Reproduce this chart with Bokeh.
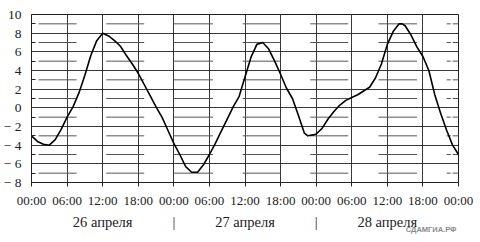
from bokeh.plotting import figure
from bokeh.models import FixedTicker, LinearAxis, Title, Range1d
from bokeh.embed import file_html
from bokeh.resources import INLINE

# ---- data (hours since 00:00 of 26 April, temperature in °C) ----
hours = [0, 1, 2, 3, 4, 5, 6, 7, 8, 9, 10, 11, 12, 13, 14, 15, 16, 17, 18, 19, 20,
         21, 22, 23, 24, 25, 26, 27, 28, 29, 30, 31, 32, 33, 34, 35, 36, 37, 38, 39,
         40, 41, 42, 43, 44, 45, 46, 46.6, 47.5, 48, 49, 50, 51, 52, 53, 54, 55, 56,
         57, 58, 59, 60, 61, 62, 62.5, 63, 64, 65, 66, 67, 68, 69, 70, 71, 72]
temps = [-3.0, -3.6, -3.9, -4.0, -3.4, -2.3, -1.0, 0.1, 1.6, 3.5, 5.6, 7.2, 8.0, 7.7,
         7.2, 6.6, 5.6, 4.7, 3.7, 2.5, 1.3, 0.1, -1.0, -2.4, -3.8, -5.0, -6.3, -6.9,
         -6.9, -6.1, -5.0, -3.8, -2.5, -1.2, 0.1, 1.2, 3.3, 5.4, 6.8, 7.0, 6.3, 5.0,
         3.6, 2.1, 1.0, -0.8, -2.7, -3.0, -2.9, -2.8, -2.2, -1.2, -0.4, 0.3, 0.8, 1.1,
         1.4, 1.8, 2.2, 3.2, 4.7, 6.8, 8.2, 9.0, 9.0, 8.8, 7.8, 6.5, 5.5, 4.0, 1.4,
         -0.6, -2.4, -4.0, -5.0]

x_ticks = [0, 6, 12, 18, 24, 30, 36, 42, 48, 54, 60, 66, 72]
x_labels = ["00:00", "06:00", "12:00", "18:00", "00:00", "06:00", "12:00", "18:00",
            "00:00", "06:00", "12:00", "18:00", "00:00"]
day_ticks = [12, 24, 36, 48, 60]
day_labels = ["26 апреля", "|", "27 апреля", "|", "28 апреля"]
y_ticks = [-8, -6, -4, -2, 0, 2, 4, 6, 8, 10]
y_labels = ["− 8", "− 6", "− 4", "− 2", "0", "2", "4", "6", "8", "10"]
half_levels = [-7, -5, -3, -1, 1, 3, 5, 7, 9]
half_start = [1.2, 12.6, 24.0, 35.6, 47.0, 58.5, 70.0, 71.0]
half_end = [7.6, 19.0, 30.6, 42.0, 53.4, 65.0, 70.7, 72.0]

FONT = "serif"
INK = "#222222"

p = figure(width=480, height=242, x_range=Range1d(0, 72), y_range=Range1d(-8, 10),
           output_backend="svg", toolbar_location=None,
           min_border_left=30, min_border_right=22, min_border_top=14,
           min_border_bottom=60, x_axis_location=None, y_axis_location=None)
p.background_fill_color = "white"
p.border_fill_color = "white"
p.outline_line_color = INK
p.outline_line_width = 1

# y axis
yax = LinearAxis(ticker=FixedTicker(ticks=y_ticks, minor_ticks=half_levels),
                 major_label_overrides={t: l for t, l in zip(y_ticks, y_labels)})
yax.major_tick_in = 0
yax.major_tick_out = 0
yax.minor_tick_in = 4
yax.minor_tick_out = 0
yax.minor_tick_line_color = INK
yax.axis_line_color = INK
yax.major_label_standoff = 10
yax.major_label_text_font = FONT
yax.major_label_text_font_size = "13.5px"
yax.major_label_text_color = INK
p.add_layout(yax, "left")

# x axis (times)
xax = LinearAxis(ticker=FixedTicker(ticks=x_ticks),
                 major_label_overrides={t: l for t, l in zip(x_ticks, x_labels)})
xax.major_tick_in = 0
xax.major_tick_out = 4
xax.major_tick_line_color = INK
xax.axis_line_color = INK
xax.minor_tick_line_color = None
xax.major_label_standoff = 6
xax.major_label_text_font = FONT
xax.major_label_text_font_size = "13px"
xax.major_label_text_color = INK
p.add_layout(xax, "below")

# day axis
dax = LinearAxis(ticker=FixedTicker(ticks=day_ticks),
                 major_label_overrides={t: l for t, l in zip(day_ticks, day_labels)})
dax.axis_line_color = None
dax.major_tick_line_color = None
dax.minor_tick_line_color = None
dax.major_tick_in = 0
dax.major_tick_out = 0
dax.major_label_standoff = 3
dax.major_label_text_font = FONT
dax.major_label_text_font_size = "14.5px"
dax.major_label_text_color = INK
p.add_layout(dax, "below")

# watermark
wm = Title(text="СДАМГИА.РФ", align="right", vertical_align="top",
           text_font="sans-serif", text_font_size="7.5px", text_color="#8a8a8a",
           text_font_style="bold", standoff=-16, offset=2)
p.add_layout(wm, "below")

# grids
p.xgrid.ticker = FixedTicker(ticks=x_ticks)
p.ygrid.ticker = FixedTicker(ticks=y_ticks)
p.xgrid.grid_line_color = INK
p.ygrid.grid_line_color = INK
p.xgrid.grid_line_alpha = 0.9
p.ygrid.grid_line_alpha = 0.9

# half-level dashes
sx0, sx1, sy = [], [], []
for lv in half_levels:
    for a, b in zip(half_start, half_end):
        sx0.append(a)
        sx1.append(b)
        sy.append(lv)
p.segment(x0=sx0, y0=sy, x1=sx1, y1=sy, line_color="#555555", line_width=1)

# temperature curve
p.line(hours, temps, line_color="black", line_width=1.6, line_join="round")

open("out.html", "w").write(file_html(p, INLINE))
